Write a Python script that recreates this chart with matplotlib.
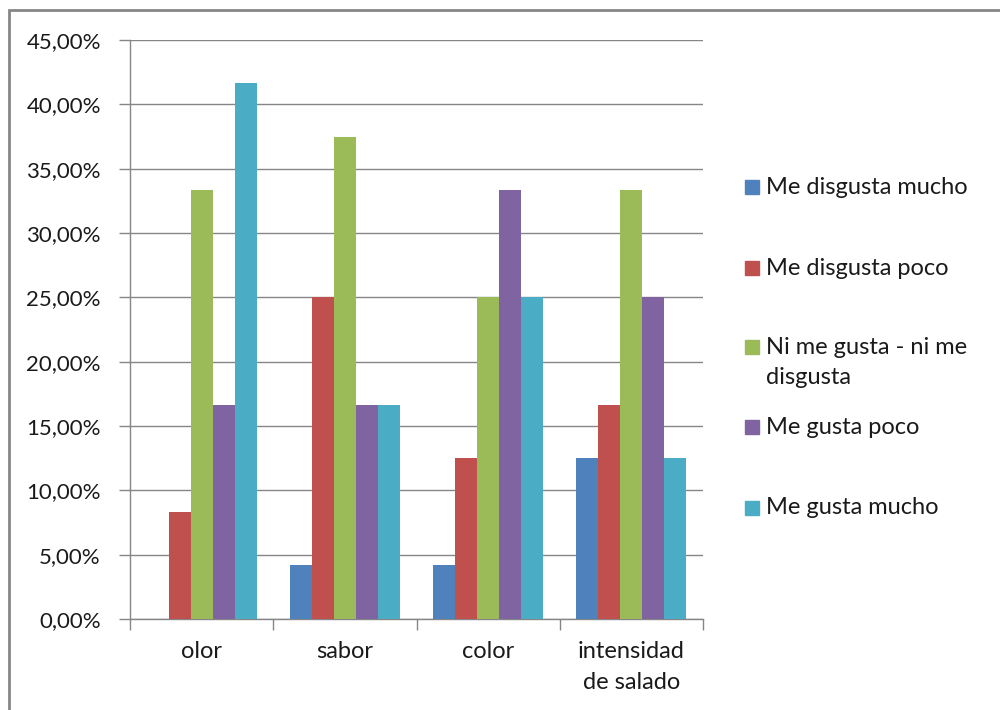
import matplotlib
matplotlib.use("Agg")
import matplotlib.pyplot as plt
from matplotlib.patches import Rectangle
from matplotlib.ticker import FixedLocator, FuncFormatter
import numpy as np

plt.rcParams['font.family'] = ['Lato', 'DejaVu Sans']

categories = ["olor", "sabor", "color", "intensidad\nde salado"]
series_names = ["Me disgusta mucho", "Me disgusta poco",
                "Ni me gusta - ni me\ndisgusta", "Me gusta poco", "Me gusta mucho"]
me_disgusta_mucho = [0.0, 4.17, 4.17, 12.5]
me_disgusta_poco = [8.33, 25.0, 12.5, 16.67]
ni_me_gusta = [33.33, 37.5, 25.0, 33.33]
me_gusta_poco = [16.67, 16.67, 33.33, 25.0]
me_gusta_mucho = [41.67, 16.67, 25.0, 12.5]
series_values = [me_disgusta_mucho, me_disgusta_poco, ni_me_gusta,
                 me_gusta_poco, me_gusta_mucho]
colors = ["#4F81BD", "#C0504D", "#9BBB59", "#8064A2", "#4BACC6"]

TEXT = "#1a1a1a"
GRID = "#868686"

W, H = 1000, 710
fig = plt.figure(figsize=(W / 100, H / 100), dpi=100)
ax = fig.add_axes([130 / W, (H - 619) / H, (703 - 130) / W, (619 - 40) / H])

n = len(series_values)
bw = 1 / (n + 1.5)
x = np.arange(len(categories))
for i, (vals, c) in enumerate(zip(series_values, colors)):
    offs = -0.5 + 0.75 * bw + (i + 0.5) * bw
    ax.bar(x + offs, vals, width=bw, color=c, zorder=3, linewidth=0)

ax.set_xlim(-0.5, len(categories) - 0.5)
ax.set_ylim(0, 45)
ax.set_yticks(np.arange(0, 46, 5))
ax.yaxis.set_major_formatter(FuncFormatter(lambda v, p: f"{v:.2f}%".replace(".", ",")))
ax.grid(axis="y", color=GRID, linewidth=1, zorder=0)
ax.set_axisbelow(True)

ax.set_xticks(x)
ax.set_xticklabels(categories, linespacing=1.6)
ax.xaxis.set_minor_locator(FixedLocator(np.arange(-0.5, len(categories), 1)))
ax.tick_params(axis="x", which="major", length=0, pad=16, labelsize=17)
ax.tick_params(axis="x", which="minor", length=8, color=GRID, width=1)
ax.tick_params(axis="y", length=8, color=GRID, width=1, labelsize=16, pad=13)
for lbl in ax.get_xticklabels() + ax.get_yticklabels():
    lbl.set_color(TEXT)

for s in ["top", "right"]:
    ax.spines[s].set_visible(False)
for s in ["left", "bottom"]:
    ax.spines[s].set_color(GRID)
    ax.spines[s].set_linewidth(1)

# legend entries on the right
legend_y = [187, 268, 347, 427, 508]
for name, c, yy in zip(series_names, colors, legend_y):
    fig.patches.append(Rectangle((745 / W, (H - yy - 7) / H), 14 / W, 14 / H,
                                 transform=fig.transFigure, color=c))
    if "\n" in name:
        fig.text(766 / W, (H - yy + 10) / H, name, fontsize=17, color=TEXT,
                 va="top", ha="left", linespacing=1.5)
    else:
        fig.text(766 / W, (H - yy) / H, name, fontsize=17, color=TEXT,
                 va="center", ha="left")

# chart frame
fig.patches.append(Rectangle((8.5 / W, -0.1), 1.2, (H - 9.5) / H + 0.1,
                             transform=fig.transFigure, fill=False,
                             edgecolor=GRID, linewidth=2))

fig.savefig("out.png", dpi=100, facecolor="white")
